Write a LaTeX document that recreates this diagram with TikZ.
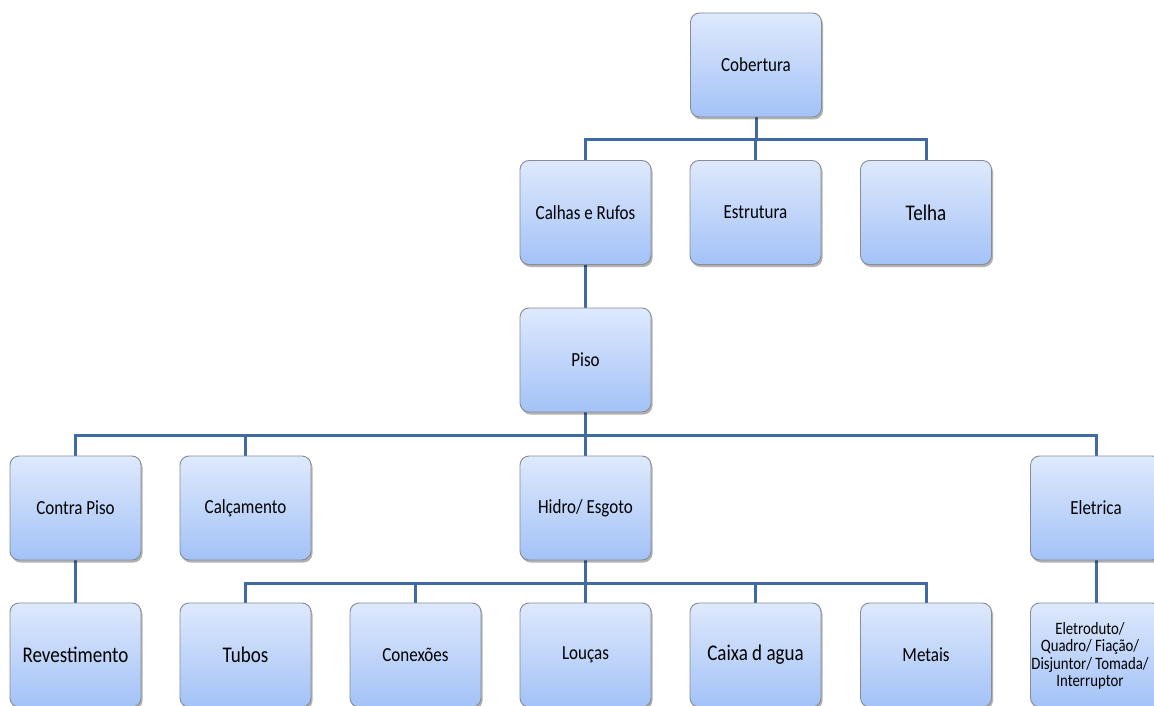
\documentclass[tikz,border=0pt]{standalone}
\usepackage{fontspec}
\setmainfont{Carlito}[FakeStretch=0.85]
\usetikzlibrary{shadows,backgrounds}
\definecolor{boxtop}{RGB}{222,233,252}
\definecolor{boxbot}{RGB}{163,194,247}
\definecolor{boxedge}{RGB}{135,140,150}
\definecolor{connc}{RGB}{64,106,162}
\tikzset{
  box/.style={rectangle, rounded corners=9pt, minimum width=131pt, minimum height=104pt,
    top color=boxtop, bottom color=boxbot, draw=boxedge, line width=0.9pt,
    drop shadow={shadow xshift=1.5pt, shadow yshift=-2.5pt, opacity=0.3, fill=black},
    font=\fontsize{20}{23}\selectfont, text=black, align=center, inner sep=2pt},
  bigtxt/.style={font=\fontsize{22.4}{26}\selectfont},
  smalltxt/.style={font=\fontsize{17.4}{17.5}\selectfont, text=black, align=center, inner sep=0pt},
  conn/.style={draw=connc, line width=3pt}
}
\begin{document}
\begin{tikzpicture}[x=1pt,y=-1pt]
\useasboundingbox (0,0) rectangle (1154,706);
\clip (0,0) rectangle (1154,706);
% nodes
\node[box] (cob) at (756,65) {Cobertura};
\node[box] (cal) at (585.5,212.5) {Calhas e Rufos};
\node[box] (est) at (755.5,212.5) {Estrutura};
\node[box,bigtxt] (tel) at (926,212.5) {Telha};
\node[box] (piso) at (585.5,360) {Piso};
\node[box] (cp) at (75.5,508) {Contra Piso};
\node[box] (calc) at (245.5,508) {Calçamento};
\node[box] (hid) at (585.5,508) {Hidro/ Esgoto};
\node[box] (ele) at (1096,508) {Eletrica};
\node[box,bigtxt] (rev) at (75.5,655) {Revestimento};
\node[box,bigtxt] (tub) at (245.5,655) {Tubos};
\node[box] (con) at (415.5,655) {Conexões};
\node[box] (lou) at (585.5,655) {Louças};
\node[box,bigtxt] (cx) at (755.5,655) {Caixa d agua};
\node[box] (met) at (926,655) {Metais};
\node[box, label={[smalltxt,xshift=-6pt,yshift=-1pt]center:Eletroduto/\\Quadro/ Fiação/\\Disjuntor/ Tomada/\\Interruptor}] (eld) at (1096,655) {};
% bus coordinates
\coordinate (b1) at (0,140);
\coordinate (b2) at (0,435);
\coordinate (b3) at (0,583);
\begin{scope}[on background layer]
\fill[white] (0,0) rectangle (1154,706);
\foreach \c in {cal,est,tel}{
  \draw[conn] (cob.south) -- (cob.south |- b1) -| (\c.north);
}
\draw[conn] (cal.south) -- (piso.north);
\foreach \c in {cp,calc,hid,ele}{
  \draw[conn] (piso.south) -- (piso.south |- b2) -| (\c.north);
}
\draw[conn] (cp.south) -- (rev.north);
\foreach \c in {tub,con,lou,cx,met}{
  \draw[conn] (hid.south) -- (hid.south |- b3) -| (\c.north);
}
\draw[conn] (ele.south) -- (eld.north);
\end{scope}
\end{tikzpicture}
\end{document}
